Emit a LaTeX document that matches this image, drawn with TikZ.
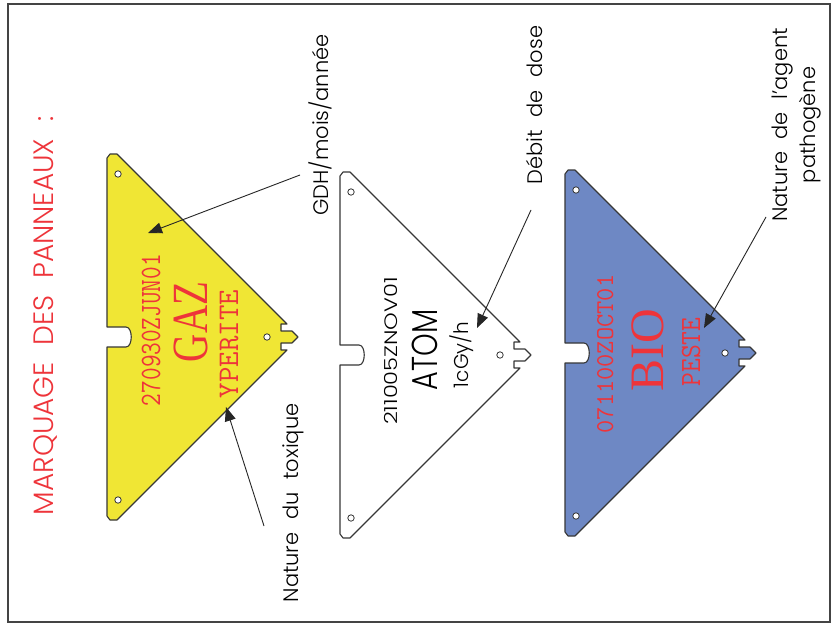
\documentclass[tikz,border=0pt]{standalone}
\usepackage{fontspec}
\usepackage{tikz}
\usetikzlibrary{arrows.meta}
\newfontfamily\labelfont{Poppins}[UprightFont={* Light},WordSpace=2.2]
\newfontfamily\plaquefont{Liberation Serif}
\definecolor{gazyellow}{RGB}{240,230,52}
\definecolor{bioblue}{RGB}{110,136,196}
\definecolor{markred}{RGB}{238,52,58}
\definecolor{edgegrey}{RGB}{55,55,55}
\definecolor{framegrey}{RGB}{68,68,68}
\tikzset{
  panneau/.style={draw=edgegrey,line width=1.1pt,line join=round},
  trou/.style={draw=edgegrey,fill=white,line width=0.8pt},
  titre/.style={text=markred,font=\labelfont\fontsize{28}{30}\selectfont,rotate=90,anchor=base,inner sep=0pt},
  legende/.style={font=\labelfont\fontsize{21}{28}\selectfont,rotate=90,anchor=base,inner sep=0pt},
  codered/.style={text=markred,rotate=90,anchor=base,inner sep=0pt},
  codenoir/.style={text=black,rotate=90,anchor=base,inner sep=0pt},
  fleche/.style={-{Triangle[length=14pt,width=11pt]},draw=black!85,line width=0.9pt},
}
\begin{document}
\begin{tikzpicture}[x=1pt,y=-1pt]
  \useasboundingbox (0,0) rectangle (839,626);
  \fill[white] (0,0) rectangle (839,626);
  \draw[framegrey,line width=2pt] (8,4) rectangle (830,622);
  % title
  \node[titre] (titre) at (53,316) {MARQUAGE DES PANNEAUX :};
  % the three plates
  \foreach \px/\py/\pcol in {107/337/gazyellow,340/355/white,565/353/bioblue}{
    \begin{scope}[shift={(\px,\py)}]
      \draw[panneau,fill=\pcol] (0,-179) -- (3,-183) -- (10,-183) -- (180,-13)
        -- (174,-13) -- (174,-6) -- (185,-6) -- (191,0) -- (185,6) -- (174,6)
        -- (174,13) -- (180,13) -- (10,183) -- (3,183) -- (0,179) -- (0,10)
        -- (19,10) .. controls (26,10) and (26,-10) .. (19,-10) -- (0,-10) -- cycle;
      \draw[trou] (11,-163) circle (3.2);
      \draw[trou] (11,163) circle (3.2);
      \draw[trou] (160,0) circle (3.2);
    \end{scope}
  }
  % GAZ
  \node[codered,font=\ttfamily\fontsize{24.6}{26}\selectfont] (gazdtg) at (160,330) {\scalebox{1}[1.2]{270930ZJUN01}};
  \node[codered,font=\plaquefont\fontsize{39}{40}\selectfont] (gaznom) at (207,322) {\scalebox{1}[1.3]{GAZ}};
  \node[codered,font=\ttfamily\fontsize{30}{32}\selectfont] (gazagent) at (238,344) {YPERITE};
  % ATOM
  \node[codenoir,font=\labelfont\fontsize{18}{20}\selectfont] (atomdtg) at (397,351) {\scalebox{1.25}[1]{211005ZNOV01}};
  \node[codenoir,font=\labelfont\fontsize{36}{38}\selectfont] (atomnom) at (437,350) {\scalebox{0.8}[1]{ATOM}};
  \node[codenoir,font=\labelfont\fontsize{20}{22}\selectfont] (atomdebit) at (468,355) {1cGy/h};
  % BIO
  \node[codered,font=\ttfamily\fontsize{25.7}{27}\selectfont] (biodtg) at (613,354) {071100ZOCT01};
  \node[codered,font=\plaquefont\fontsize{48}{50}\selectfont] (bionom) at (663,350) {BIO};
  \node[codered,font=\ttfamily\fontsize{26.7}{28}\selectfont] (bioagent) at (700,352) {\scalebox{1}[1.1]{PESTE}};
  % legends
  \node[legende] (gdh) at (328,125) {GDH/mois/année};
  \node[legende] (toxique) at (298,503) {Nature du toxique};
  \node[legende] (debit) at (542,105) {Débit de dose};
  \node[legende,align=center,anchor=center] (agent) at (797,125) {Nature de l’agent\\pathogène};
  % arrows
  \coordinate (gdh-q) at (300,175);
  \coordinate (gdh-p) at (148,233);
  \coordinate (toxique-q) at (264,526);
  \coordinate (toxique-p) at (226,407);
  \coordinate (debit-q) at (531,210);
  \coordinate (debit-p) at (477,328);
  \coordinate (agent-q) at (766,217);
  \coordinate (agent-p) at (704,328);
  \draw[fleche] (gdh-q) -- (gdh-p);
  \draw[fleche] (toxique-q) -- (toxique-p);
  \draw[fleche] (debit-q) -- (debit-p);
  \draw[fleche] (agent-q) -- (agent-p);
\end{tikzpicture}
\end{document}
